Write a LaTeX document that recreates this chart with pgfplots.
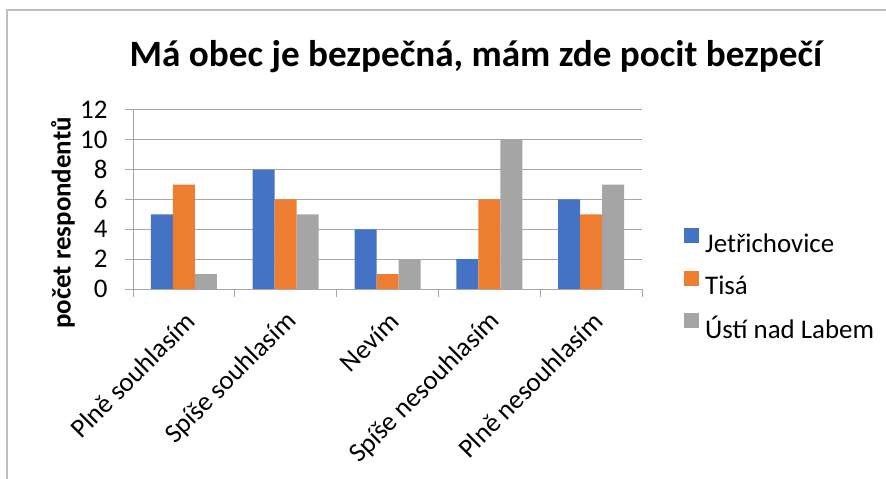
\documentclass[border=0pt]{standalone}
\usepackage{fontspec}
\setmainfont{Carlito}
\usepackage{pgfplots}
\pgfplotsset{compat=1.18}
\definecolor{cblue}{HTML}{4472C4}
\definecolor{corange}{HTML}{ED7D31}
\definecolor{cgray}{HTML}{A5A5A5}
\definecolor{gridc}{HTML}{A6A6A6}
\definecolor{framec}{HTML}{BFBFBF}
\begin{document}
\begin{tikzpicture}
\useasboundingbox (0,0) rectangle (886bp,479bp);
\draw[framec, line width=1.2bp] (7bp,-20bp) -- (7bp,469bp) -- (920bp,469bp);
\node[font=\fontsize{37.3}{44}\selectfont\bfseries, anchor=base, inner sep=0pt] at (476bp,412bp) {Má obec je bezpečná, mám zde pocit bezpečí};
\node[font=\fontsize{27}{32}\selectfont\bfseries, rotate=90, inner sep=0pt] at (63bp,256bp) {počet respondentů};
\begin{axis}[
  at={(133bp,190bp)}, anchor=south west,
  scale only axis, width=509bp, height=179bp,
  ybar=0pt, bar width=22bp,
  xmin=-0.5, xmax=4.5, ymin=0, ymax=12,
  ytick={0,2,...,12},
  xtick={-0.5,0.5,1.5,2.5,3.5,4.5},
  xticklabels={Plně souhlasím, Spíše souhlasím, Nevím, Spíše nesouhlasím, Plně nesouhlasím,},
  x tick label as interval,
  axis lines=left,
  axis line style={-, gridc, line width=1bp},
  tick align=outside,
  major tick length=8bp,
  tick style={gridc, line width=1bp},
  ymajorgrids,
  major grid style={gridc, line width=1bp},
  tick label style={font=\fontsize{27}{32}\selectfont},
  /pgf/number format/assume math mode=true,
  x tick label style={rotate=45, anchor=east, xshift=-6bp, yshift=-19bp},
  y tick label style={xshift=-14bp},
  legend style={draw=none, at={(1.0825,0.028)}, anchor=west,
     font=\fontsize{27}{32}\selectfont, row sep=17bp, column sep=6bp, inner sep=0pt,
     nodes={inner sep=0pt}},
  legend cell align=left,
  legend image code/.code={\fill[#1] (0bp,0bp) rectangle (15bp,15bp);},
]
\addplot[fill=cblue, draw=none] coordinates {(0,5) (1,8) (2,4) (3,2) (4,6)};
\addplot[fill=corange, draw=none] coordinates {(0,7) (1,6) (2,1) (3,6) (4,5)};
\addplot[fill=cgray, draw=none] coordinates {(0,1) (1,5) (2,2) (3,10) (4,7)};
\legend{Jetřichovice, Tisá, Ústí nad Labem}
\end{axis}
\end{tikzpicture}
\end{document}
